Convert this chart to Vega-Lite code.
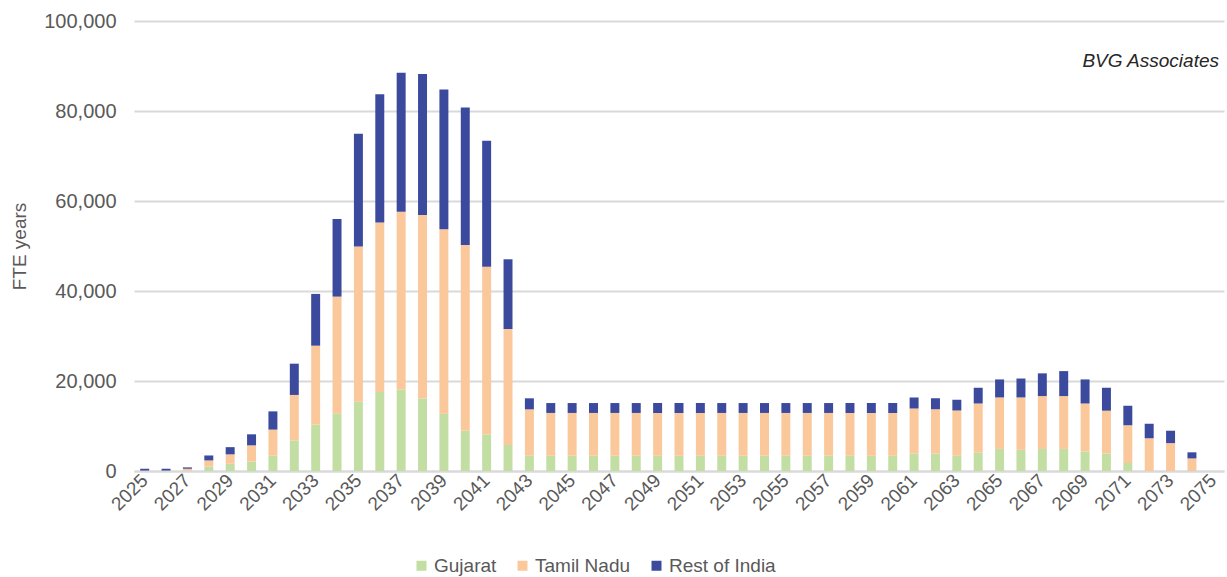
{
  "$schema": "https://vega.github.io/schema/vega-lite/v6.json",
  "width": 1090,
  "height": 450,
  "autosize": {"type": "none"},
  "padding": {"left": 134, "top": 21, "right": 3, "bottom": 106},
  "background": "white",
  "title": {
    "text": "BVG Associates",
    "anchor": "end",
    "orient": "top",
    "frame": "group",
    "offset": -75,
    "dx": -5,
    "baseline": "alphabetic",
    "font": "Liberation Sans",
    "fontSize": 19,
    "fontStyle": "italic",
    "fontWeight": "normal",
    "color": "#262626"
  },
  "data": {
    "values": [
      {"year": 2025, "Gujarat": 0, "Tamil Nadu": 100, "Rest of India": 400},
      {"year": 2026, "Gujarat": 0, "Tamil Nadu": 100, "Rest of India": 400},
      {"year": 2027, "Gujarat": 100, "Tamil Nadu": 400, "Rest of India": 300},
      {"year": 2028, "Gujarat": 1000, "Tamil Nadu": 1350, "Rest of India": 1100},
      {"year": 2029, "Gujarat": 1600, "Tamil Nadu": 2100, "Rest of India": 1600},
      {"year": 2030, "Gujarat": 2100, "Tamil Nadu": 3600, "Rest of India": 2450},
      {"year": 2031, "Gujarat": 3400, "Tamil Nadu": 5800, "Rest of India": 4050},
      {"year": 2032, "Gujarat": 6800, "Tamil Nadu": 10100, "Rest of India": 6950},
      {"year": 2033, "Gujarat": 10300, "Tamil Nadu": 17550, "Rest of India": 11500},
      {"year": 2034, "Gujarat": 12750, "Tamil Nadu": 26000, "Rest of India": 17250},
      {"year": 2035, "Gujarat": 15400, "Tamil Nadu": 34500, "Rest of India": 25050},
      {"year": 2036, "Gujarat": 17550, "Tamil Nadu": 37700, "Rest of India": 28500},
      {"year": 2037, "Gujarat": 18050, "Tamil Nadu": 39550, "Rest of India": 30900},
      {"year": 2038, "Gujarat": 16150, "Tamil Nadu": 40750, "Rest of India": 31300},
      {"year": 2039, "Gujarat": 12750, "Tamil Nadu": 40950, "Rest of India": 31100},
      {"year": 2040, "Gujarat": 8950, "Tamil Nadu": 41250, "Rest of India": 30600},
      {"year": 2041, "Gujarat": 8150, "Tamil Nadu": 37250, "Rest of India": 28000},
      {"year": 2042, "Gujarat": 5800, "Tamil Nadu": 25750, "Rest of India": 15500},
      {"year": 2043, "Gujarat": 3400, "Tamil Nadu": 10300, "Rest of India": 2450},
      {"year": 2044, "Gujarat": 3400, "Tamil Nadu": 9500, "Rest of India": 2200},
      {"year": 2045, "Gujarat": 3400, "Tamil Nadu": 9500, "Rest of India": 2200},
      {"year": 2046, "Gujarat": 3400, "Tamil Nadu": 9500, "Rest of India": 2200},
      {"year": 2047, "Gujarat": 3400, "Tamil Nadu": 9500, "Rest of India": 2200},
      {"year": 2048, "Gujarat": 3400, "Tamil Nadu": 9500, "Rest of India": 2200},
      {"year": 2049, "Gujarat": 3400, "Tamil Nadu": 9500, "Rest of India": 2200},
      {"year": 2050, "Gujarat": 3400, "Tamil Nadu": 9500, "Rest of India": 2200},
      {"year": 2051, "Gujarat": 3400, "Tamil Nadu": 9500, "Rest of India": 2200},
      {"year": 2052, "Gujarat": 3400, "Tamil Nadu": 9500, "Rest of India": 2200},
      {"year": 2053, "Gujarat": 3400, "Tamil Nadu": 9500, "Rest of India": 2200},
      {"year": 2054, "Gujarat": 3400, "Tamil Nadu": 9500, "Rest of India": 2200},
      {"year": 2055, "Gujarat": 3400, "Tamil Nadu": 9500, "Rest of India": 2200},
      {"year": 2056, "Gujarat": 3400, "Tamil Nadu": 9500, "Rest of India": 2200},
      {"year": 2057, "Gujarat": 3400, "Tamil Nadu": 9500, "Rest of India": 2200},
      {"year": 2058, "Gujarat": 3400, "Tamil Nadu": 9500, "Rest of India": 2200},
      {"year": 2059, "Gujarat": 3400, "Tamil Nadu": 9500, "Rest of India": 2200},
      {"year": 2060, "Gujarat": 3400, "Tamil Nadu": 9500, "Rest of India": 2200},
      {"year": 2061, "Gujarat": 3900, "Tamil Nadu": 10000, "Rest of India": 2450},
      {"year": 2062, "Gujarat": 3900, "Tamil Nadu": 9800, "Rest of India": 2450},
      {"year": 2063, "Gujarat": 3400, "Tamil Nadu": 10050, "Rest of India": 2400},
      {"year": 2064, "Gujarat": 4100, "Tamil Nadu": 10900, "Rest of India": 3500},
      {"year": 2065, "Gujarat": 4900, "Tamil Nadu": 11450, "Rest of India": 4000},
      {"year": 2066, "Gujarat": 4700, "Tamil Nadu": 11650, "Rest of India": 4200},
      {"year": 2067, "Gujarat": 4900, "Tamil Nadu": 11750, "Rest of India": 5050},
      {"year": 2068, "Gujarat": 4900, "Tamil Nadu": 11750, "Rest of India": 5550},
      {"year": 2069, "Gujarat": 4350, "Tamil Nadu": 10650, "Rest of India": 5350},
      {"year": 2070, "Gujarat": 3900, "Tamil Nadu": 9500, "Rest of India": 5100},
      {"year": 2071, "Gujarat": 1800, "Tamil Nadu": 8350, "Rest of India": 4350},
      {"year": 2072, "Gujarat": 0, "Tamil Nadu": 7300, "Rest of India": 3200},
      {"year": 2073, "Gujarat": 0, "Tamil Nadu": 6200, "Rest of India": 2750},
      {"year": 2074, "Gujarat": 0, "Tamil Nadu": 2800, "Rest of India": 1350},
      {"year": 2075, "Gujarat": 0, "Tamil Nadu": 0, "Rest of India": 0}
    ]
  },
  "transform": [
    {"fold": ["Gujarat", "Tamil Nadu", "Rest of India"], "as": ["region", "fte"]},
    {"calculate": "indexof(['Gujarat', 'Tamil Nadu', 'Rest of India'], datum.region)", "as": "stackOrder"}
  ],
  "mark": {"type": "bar"},
  "encoding": {
    "x": {
      "field": "year",
      "type": "ordinal",
      "scale": {"paddingInner": 0.58, "paddingOuter": 0.29},
      "axis": {
        "title": null,
        "values": [2025, 2027, 2029, 2031, 2033, 2035, 2037, 2039, 2041, 2043, 2045, 2047, 2049, 2051, 2053, 2055, 2057, 2059, 2061, 2063, 2065, 2067, 2069, 2071, 2073, 2075],
        "labelAngle": -45,
        "labelAlign": "right",
        "labelBaseline": "middle",
        "labelPadding": 6,
        "labelFont": "Liberation Sans",
        "labelFontSize": 19,
        "labelColor": "#595959",
        "ticks": false,
        "domainColor": "#d9d9d9",
        "domainWidth": 2,
        "grid": false
      }
    },
    "y": {
      "field": "fte",
      "type": "quantitative",
      "stack": "zero",
      "scale": {"domain": [0, 100000], "nice": false},
      "axis": {
        "title": "FTE years",
        "titleFont": "Liberation Sans",
        "titleFontSize": 19,
        "titleFontWeight": "normal",
        "titleColor": "#595959",
        "titlePadding": 14,
        "values": [0, 20000, 40000, 60000, 80000, 100000],
        "format": ",d",
        "labelFont": "Liberation Sans",
        "labelFontSize": 20,
        "labelColor": "#595959",
        "labelPadding": 18,
        "ticks": false,
        "domain": false,
        "gridColor": "#d9d9d9",
        "gridWidth": 2
      }
    },
    "order": {"field": "stackOrder", "type": "quantitative", "sort": "ascending"},
    "color": {
      "field": "region",
      "type": "nominal",
      "sort": ["Gujarat", "Tamil Nadu", "Rest of India"],
      "scale": {
        "domain": ["Gujarat", "Tamil Nadu", "Rest of India"],
        "range": ["#C3DEA3", "#FBC89B", "#3C4A9E"]
      },
      "legend": {
        "title": null,
        "orient": "none",
        "direction": "horizontal",
        "legendX": 278,
        "legendY": 535,
        "symbolType": "square",
        "symbolSize": 100,
        "symbolStrokeWidth": 0,
        "labelFont": "Liberation Sans",
        "labelFontSize": 19,
        "labelColor": "#595959",
        "labelOffset": 3,
        "columnPadding": 16,
        "padding": 0
      }
    }
  },
  "config": {
    "view": {"stroke": null}
  }
}
